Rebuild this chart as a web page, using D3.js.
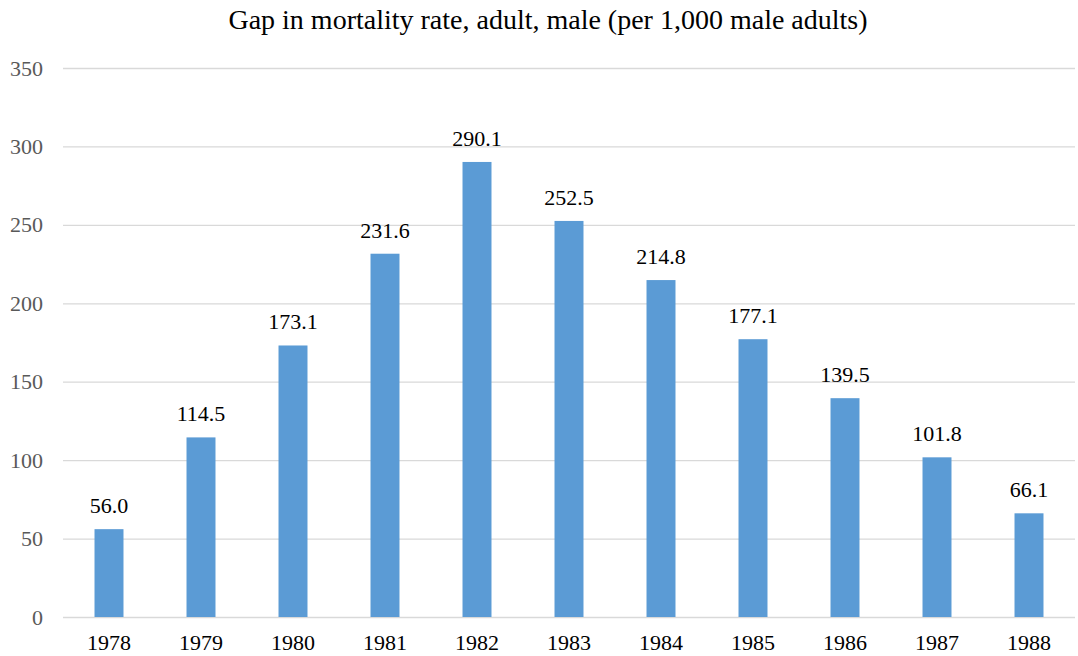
<!DOCTYPE html>
<html>
<head>
<meta charset="utf-8">
<script src="https://cdn.jsdelivr.net/npm/d3@7"></script>
<style>
  body { margin: 0; background: #fff; }
</style>
</head>
<body>
<div id="chart"></div>
<script>
// data
const years = ["1978", "1979", "1980", "1981", "1982", "1983", "1984", "1985", "1986", "1987", "1988"];
const gapValues = [56.0, 114.5, 173.1, 231.6, 290.1, 252.5, 214.8, 177.1, 139.5, 101.8, 66.1];
const yTicks = [0, 50, 100, 150, 200, 250, 300, 350];
const title = "Gap in mortality rate, adult, male (per 1,000 male adults)";

const width = 1078, height = 656;
const margin = {top: 68, right: 3, bottom: 39, left: 63};
const font = "'Liberation Serif', 'Times New Roman', serif";

const svg = d3.select("#chart").append("svg")
  .attr("width", width)
  .attr("height", height)
  .style("font-family", font);

const x = d3.scaleBand()
  .domain(years)
  .range([margin.left, width - margin.right])
  .paddingInner(0.685)
  .paddingOuter(0.3425);

const y = d3.scaleLinear()
  .domain([0, 350])
  .range([height - margin.bottom, margin.top]);

// title
svg.append("text")
  .attr("x", 548)
  .attr("y", 29)
  .attr("text-anchor", "middle")
  .style("font-family", font)
  .style("font-size", "28px")
  .attr("fill", "#000")
  .text(title);

// grid
const yAxis = svg.append("g")
  .attr("transform", `translate(${margin.left},0)`)
  .call(d3.axisLeft(y).tickValues(yTicks).tickSize(-(width - margin.left - margin.right)).tickPadding(20));

yAxis.select(".domain").remove();
yAxis.selectAll(".tick line").attr("stroke", "#d9d9d9").attr("stroke-width", 1.3);
yAxis.selectAll(".tick text")
  .style("font-family", font)
  .style("font-size", "22px")
  .attr("fill", "#595959");

// bars
svg.append("g")
  .selectAll("rect")
  .data(gapValues)
  .join("rect")
  .attr("x", (d, i) => x(years[i]))
  .attr("y", d => y(d))
  .attr("width", x.bandwidth())
  .attr("height", d => y(0) - y(d))
  .attr("fill", "#5b9bd5");

// value labels
svg.append("g")
  .selectAll("text")
  .data(gapValues)
  .join("text")
  .attr("x", (d, i) => x(years[i]) + x.bandwidth() / 2)
  .attr("y", d => y(d) - 16)
  .attr("text-anchor", "middle")
  .style("font-family", font)
  .style("font-size", "22px")
  .attr("fill", "#000")
  .text(d => d.toFixed(1));

// x axis labels
const xAxis = svg.append("g")
  .attr("transform", `translate(0,${height - margin.bottom})`)
  .call(d3.axisBottom(x).tickSize(0).tickPadding(17));
xAxis.select(".domain").remove();
xAxis.selectAll(".tick text")
  .style("font-family", font)
  .style("font-size", "22px")
  .attr("fill", "#000");
</script>
</body>
</html>
